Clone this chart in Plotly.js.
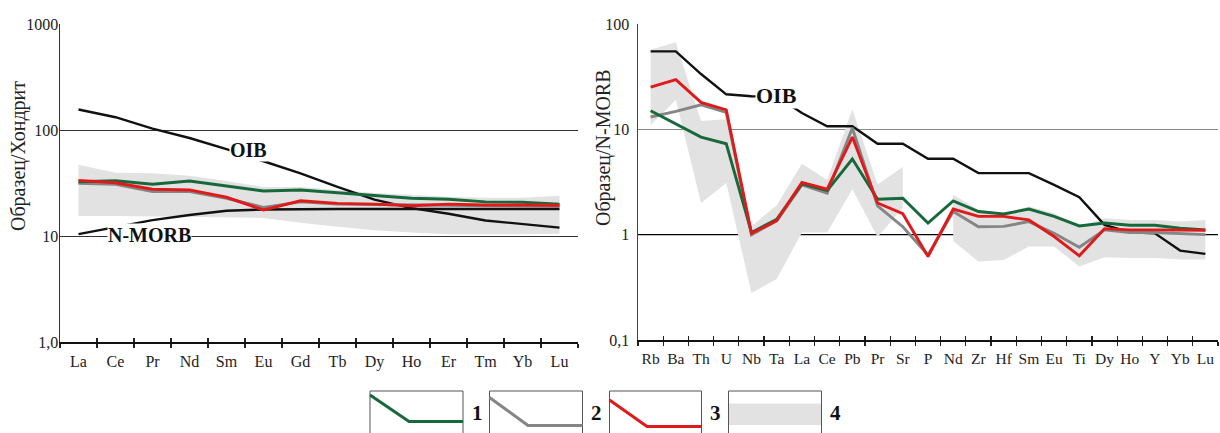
<!DOCTYPE html>
<html>
<head>
<meta charset="utf-8">
<script src="https://cdn.plot.ly/plotly-3.0.1.min.js"></script>
<style>html,body{margin:0;padding:0;background:#fff;}#chart{width:1220px;height:433px;}</style>
</head>
<body>
<div id="chart"></div>
<script>
// ---------- data: left panel (chondrite-normalised REE) ----------
const REE = ['La','Ce','Pr','Nd','Sm','Eu','Gd','Tb','Dy','Ho','Er','Tm','Yb','Lu'];
const oibRee    = [156, 132, 103, 84, 66, 51, 39, 29, 22, 18.3, 16.2, 14, 13, 12];
const nmorbRee  = [10.4, 12.2, 14.1, 15.8, 17.3, 17.8, 18, 18, 18, 18, 18, 18, 18, 18];
const group1Ree = [32.5, 33.2, 30.8, 33, 29.6, 26.6, 27.2, 25.6, 23.8, 22.7, 22.2, 21, 20.8, 20];
const group2Ree = [31.4, 30.8, 26.2, 26.2, 22.7, 18.6, 21, 20, 19.8, 19.5, 19.5, 19.3, 19.3, 19];
const group3Ree = [33.5, 31.8, 27.6, 27.2, 23.2, 17.6, 21.5, 20.3, 20, 19.3, 20, 19.6, 19.6, 19.5];
const field4HiRee = [47, 39.5, 39, 37, 33, 29, 29, 27, 25.5, 24.5, 23.5, 23, 23, 24];
const field4LoRee = [15.4, 15.4, 15.4, 15.2, 15, 14.8, 13.3, 12.2, 11.3, 10.8, 10.4, 10.4, 10.4, 10.5];

// ---------- data: right panel (N-MORB-normalised spidergram) ----------
const SPI = ['Rb','Ba','Th','U','Nb','Ta','La','Ce','Pb','Pr','Sr','P','Nd','Zr','Hf','Sm','Eu','Ti','Dy','Ho','Y','Yb','Lu'];
const oibSpi    = [55, 55, 33.5, 21.5, 20.6, 20.5, 14.3, 10.7, 10.7, 7.3, 7.3, 5.25, 5.25, 3.84, 3.84, 3.84, 2.97, 2.27, 1.24, 1.055, 1.03, 0.706, 0.657];
const group1Spi = [15, 11.2, 8.45, 7.3, 1.05, 1.4, 3.04, 2.62, 5.23, 2.17, 2.22, 1.29, 2.09, 1.66, 1.57, 1.75, 1.49, 1.21, 1.29, 1.23, 1.23, 1.15, 1.11];
const group2Spi = [13.1, 14.8, 17.1, 14.5, 1.0, 1.35, 2.97, 2.48, 10.3, 1.88, 1.19, 0.64, 1.66, 1.19, 1.2, 1.33, 1.03, 0.76, 1.11, 1.05, 1.05, 1.03, 1.0];
const group3Spi = [25.2, 29.6, 18, 15.3, 1.03, 1.36, 3.13, 2.7, 8.45, 2.0, 1.58, 0.62, 1.75, 1.49, 1.49, 1.38, 0.96, 0.63, 1.14, 1.11, 1.11, 1.11, 1.10];
const field4HiSpi = [57, 67, 12, 12.5, 1.2, 1.9, 4.7, 3.3, 15.5, 3.0, 4.4, null, 2.39, 1.72, 1.6, 1.85, 1.6, 1.19, 1.43, 1.38, 1.38, 1.33, 1.38];
const field4LoSpi = [11, 19, 2.0, 3.1, 0.28, 0.38, 1.05, 1.05, 2.7, 0.95, 1.8, null, 0.87, 0.555, 0.575, 0.77, 0.77, 0.5, 0.61, 0.6, 0.6, 0.58, 0.58];

// ---------- tick labels ----------
const yTickValsL = [1, 10, 100, 1000];
const yTickTextL = ['1,0', '10', '100', '1000'];
const yTickValsR = [0.1, 1, 10, 100];
const yTickTextR = ['0,1', '1', '10', '100'];

// ---------- styles ----------
const C_GREEN = '#17683a', C_GRAY = '#858585', C_RED = '#e01a1a', C_BLACK = '#111111', C_FIELD = '#e2e2e2';
const SERIF = 'Liberation Serif, Times New Roman, serif';
const W = 1220, H = 433;
const px = v => v / W, py = v => 1 - v / H;

// polygon(s) for a band, split at nulls
function bandPolys(cats, hi, lo) {
  const xs = [], ys = [];
  let seg = [];
  const flush = () => {
    if (seg.length) {
      seg.forEach(i => { xs.push(cats[i]); ys.push(hi[i]); });
      seg.slice().reverse().forEach(i => { xs.push(cats[i]); ys.push(lo[i]); });
      xs.push(cats[seg[0]]); ys.push(hi[seg[0]]);
      xs.push(null); ys.push(null);
    }
    seg = [];
  };
  cats.forEach((c, i) => { if (hi[i] == null) flush(); else seg.push(i); });
  flush();
  return {xs, ys};
}

function line(x, y, color, width, xa, ya) {
  return {x, y, xaxis: xa, yaxis: ya, type: 'scatter', mode: 'lines',
          line: {color, width}, hoverinfo: 'skip', showlegend: false};
}

const bL = bandPolys(REE, field4HiRee, field4LoRee);
const bR = bandPolys(SPI, field4HiSpi, field4LoSpi);

const traces = [
  {x: bL.xs, y: bL.ys, xaxis: 'x', yaxis: 'y', type: 'scatter', mode: 'lines', fill: 'toself',
   fillcolor: C_FIELD, line: {width: 0, color: C_FIELD}, hoverinfo: 'skip', showlegend: false},
  line(REE, oibRee, C_BLACK, 2.4, 'x', 'y'),
  line(REE, nmorbRee, C_BLACK, 2.4, 'x', 'y'),
  line(REE, group2Ree, C_GRAY, 2.9, 'x', 'y'),
  line(REE, group1Ree, C_GREEN, 2.9, 'x', 'y'),
  line(REE, group3Ree, C_RED, 2.9, 'x', 'y'),

  {x: bR.xs, y: bR.ys, xaxis: 'x2', yaxis: 'y2', type: 'scatter', mode: 'lines', fill: 'toself',
   fillcolor: C_FIELD, line: {width: 0, color: C_FIELD}, hoverinfo: 'skip', showlegend: false},
  line(SPI, oibSpi, C_BLACK, 2.4, 'x2', 'y2'),
  line(SPI, group2Spi, C_GRAY, 2.9, 'x2', 'y2'),
  line(SPI, group1Spi, C_GREEN, 2.9, 'x2', 'y2'),
  line(SPI, group3Spi, C_RED, 2.9, 'x2', 'y2'),

  // carriers for the overlay axes (inside half of crossing ticks)
  Object.assign(line(REE, nmorbRee, C_BLACK, 1, 'x3', 'y'), {opacity: 0}),
  Object.assign(line(SPI, oibSpi, C_BLACK, 1, 'x4', 'y2'), {opacity: 0})
];

const xBase = {
  type: 'category', categoryorder: 'array', tickson: 'boundaries', tickangle: 0,
  ticks: 'outside', ticklen: 4, tickwidth: 1.2, tickcolor: '#222', ticklabelstandoff: 4,
  showline: true, linecolor: '#111', linewidth: 1.5, showgrid: false, zeroline: false,
  fixedrange: true
};
const xOver = {
  type: 'category', categoryorder: 'array', tickson: 'boundaries',
  ticks: 'inside', ticklen: 4, tickwidth: 1.2, tickcolor: '#222',
  showline: false, showgrid: false, zeroline: false, showticklabels: false, fixedrange: true
};

const domL = [px(60), px(578)], domR = [px(638), px(1218)];
const ann = (x, y, text, size, extra) => Object.assign({
  xref: 'paper', yref: 'paper', x: px(x), y: py(y), text, showarrow: false,
  xanchor: 'center', yanchor: 'middle', font: {family: SERIF, size, color: '#111'}
}, extra || {});

const layout = {
  width: W, height: H, autosize: false,
  margin: {l: 0, r: 0, t: 0, b: 0, pad: 0},
  paper_bgcolor: '#fff', plot_bgcolor: 'rgba(0,0,0,0)',
  showlegend: false,
  xaxis: Object.assign({}, xBase, {domain: domL, anchor: 'y', categoryarray: REE, range: [-0.5, REE.length - 0.5],
          tickfont: {family: SERIF, size: 16, color: '#222'}}),
  xaxis3: Object.assign({}, xOver, {overlaying: 'x', anchor: 'y', categoryarray: REE, range: [-0.5, REE.length - 0.5]}),
  yaxis: {domain: [py(342), py(24)], anchor: 'x', type: 'log', range: [0, 3],
          tickvals: yTickValsL, ticktext: yTickTextL, ticks: '', ticklabelstandoff: -3,
          showline: true, linecolor: '#333', linewidth: 1.5,
          showgrid: true, gridcolor: '#333', gridwidth: 1, zeroline: false,
          tickfont: {family: SERIF, size: 16, color: '#222'}, fixedrange: true},
  xaxis2: Object.assign({}, xBase, {domain: domR, anchor: 'y2', categoryarray: SPI, range: [-0.5, SPI.length - 0.5],
          tickfont: {family: SERIF, size: 15.5, color: '#222'}}),
  xaxis4: Object.assign({}, xOver, {overlaying: 'x2', anchor: 'y2', categoryarray: SPI, range: [-0.5, SPI.length - 0.5]}),
  yaxis2: {domain: [py(340), py(24)], anchor: 'x2', type: 'log', range: [-1, 2],
           tickvals: yTickValsR, ticktext: yTickTextR, ticks: '', ticklabelstandoff: 4,
           showline: true, linecolor: '#444', linewidth: 1.5,
           showgrid: true, gridcolor: '#8a8a8a', gridwidth: 1.6, zeroline: false,
           tickfont: {family: SERIF, size: 16, color: '#222'}, fixedrange: true},
  shapes: [
    {type: 'line', xref: 'x2', yref: 'y2', x0: -0.5, x1: SPI.length - 0.5, y0: 1, y1: 1,
     line: {color: '#000', width: 1.4}, layer: 'between'},
    // legend boxes
    {type: 'rect', xref: 'paper', yref: 'paper', x0: px(370), x1: px(463), y0: py(391), y1: -0.2, line: {color: '#555', width: 1}},
    {type: 'rect', xref: 'paper', yref: 'paper', x0: px(489.5), x1: px(582.5), y0: py(391), y1: -0.2, line: {color: '#555', width: 1}},
    {type: 'rect', xref: 'paper', yref: 'paper', x0: px(609.5), x1: px(701.5), y0: py(391), y1: -0.2, line: {color: '#555', width: 1}},
    {type: 'rect', xref: 'paper', yref: 'paper', x0: px(728.5), x1: px(821.5), y0: py(391), y1: -0.2, line: {color: '#555', width: 1}},
    {type: 'rect', xref: 'paper', yref: 'paper', x0: px(729), x1: px(821), y0: py(425), y1: py(403.5), line: {width: 0}, fillcolor: C_FIELD},
    {type: 'path', xref: 'paper', yref: 'paper', line: {color: C_GREEN, width: 3},
     path: `M ${px(370)},${py(395)} L ${px(409)},${py(421.5)} L ${px(463)},${py(421.5)}`},
    {type: 'path', xref: 'paper', yref: 'paper', line: {color: C_GRAY, width: 3},
     path: `M ${px(489.5)},${py(397.5)} L ${px(528)},${py(425.5)} L ${px(582.5)},${py(425.5)}`},
    {type: 'path', xref: 'paper', yref: 'paper', line: {color: C_RED, width: 3},
     path: `M ${px(609.5)},${py(400)} L ${px(647)},${py(426.5)} L ${px(701.5)},${py(426.5)}`}
  ],
  annotations: [
    ann(18, 156, 'Образец/Хондрит', 20, {textangle: -90, font: {family: SERIF, size: 20, color: '#222'}}),
    ann(603, 148, 'Образец/N-MORB', 20, {textangle: -90, font: {family: SERIF, size: 20, color: '#222'}}),
    ann(249, 150, '<b>OIB</b>', 20, {bgcolor: '#fff', borderpad: 0}),
    ann(149, 235, '<b>N-MORB</b>', 20, {bgcolor: '#fff', borderpad: 0}),
    ann(776, 96, '<b>OIB</b>', 22, {bgcolor: '#fff', borderpad: 0}),
    ann(477, 413, '<b>1</b>', 21),
    ann(596, 413, '<b>2</b>', 21),
    ann(715, 413, '<b>3</b>', 21),
    ann(835, 413, '<b>4</b>', 21)
  ]
};

Plotly.newPlot('chart', traces, layout, {staticPlot: true, displayModeBar: false});
</script>
</body>
</html>
